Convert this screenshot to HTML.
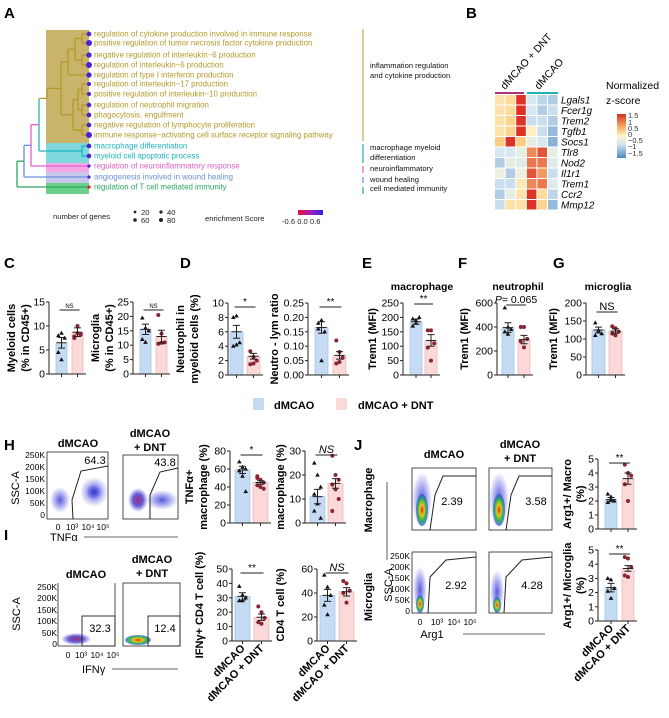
<!DOCTYPE html>
<html><head><meta charset="utf-8"><style>
body{margin:0;background:#fff}
svg{display:block;font-family:"Liberation Sans",Arial,sans-serif}
.b{font-weight:bold}
</style></head><body>
<svg id="fig" width="669" height="718" viewBox="0 0 669 718" xmlns="http://www.w3.org/2000/svg">
<defs>
<linearGradient id="esg" x1="0" x2="1"><stop offset="0" stop-color="#e8102a"/><stop offset="0.5" stop-color="#a020c0"/><stop offset="1" stop-color="#3020e0"/></linearGradient>
<linearGradient id="zg" x1="0" y1="0" x2="0" y2="1"><stop offset="0" stop-color="#d73027"/><stop offset="0.3" stop-color="#fbb060"/><stop offset="0.5" stop-color="#fdf6c9"/><stop offset="0.7" stop-color="#cfe4f0"/><stop offset="1" stop-color="#4f86c0"/></linearGradient>
<radialGradient id="hot"><stop offset="0" stop-color="#e02010"/><stop offset="0.35" stop-color="#f0c020"/><stop offset="0.65" stop-color="#30c040"/><stop offset="1" stop-color="#2040e0" stop-opacity="0.6"/></radialGradient>
<radialGradient id="blu"><stop offset="0" stop-color="#3030d0" stop-opacity="0.8"/><stop offset="1" stop-color="#3030e0" stop-opacity="0"/></radialGradient>
<radialGradient id="pur"><stop offset="0" stop-color="#a03080"/><stop offset="0.5" stop-color="#4030c0" stop-opacity="0.8"/><stop offset="1" stop-color="#3030e0" stop-opacity="0"/></radialGradient>
</defs>

<g class="b" font-size="15">
<text x="4" y="18">A</text><text x="466" y="18">B</text>
<text x="4" y="268">C</text><text x="180" y="268">D</text><text x="362" y="268">E</text><text x="458" y="268">F</text><text x="553" y="268">G</text>
<text x="4" y="450">H</text><text x="354" y="450">J</text><text x="4" y="540">I</text>
</g>

<g id="panelA">
<rect x="46" y="30" width="43" height="113" fill="#c8b46a"/>
<rect x="46" y="143" width="43" height="20" fill="#7ed8dc"/>
<rect x="46" y="163" width="43" height="9" fill="#f4a8e8"/>
<rect x="46" y="172" width="43" height="11" fill="#c8c8ee"/>
<rect x="46" y="183" width="43" height="11" fill="#6cd08c"/>
<g id="tree" fill="none" stroke-width="1.3"></g>
<g id="goLabels" font-size="7.9"></g>
<g font-size="7.6" fill="#111">
<line x1="363" y1="29" x2="363" y2="141" stroke="#b59a2a" stroke-width="1"/>
<text x="370" y="68">inflammation regulation</text><text x="370" y="78">and cytokine production</text>
<line x1="363" y1="144" x2="363" y2="163" stroke="#1fb5c0" stroke-width="1.2"/>
<text x="370" y="150">macrophage myeloid</text><text x="370" y="160">differentiation</text>
<line x1="363" y1="166" x2="363" y2="173" stroke="#e060c8" stroke-width="1.2"/><text x="370" y="171">neuroinflammatory</text>
<line x1="363" y1="177" x2="363" y2="183" stroke="#6a8fe0" stroke-width="1.2"/><text x="370" y="182">wound healing</text>
<line x1="363" y1="187" x2="363" y2="194" stroke="#2aa860" stroke-width="1.2"/><text x="370" y="191">cell mediated immunity</text>
</g>
<g font-size="7.6" fill="#222">
<text x="53" y="219">number of genes</text>
<circle cx="135" cy="212" r="1.4"/><text x="141" y="215">20</text>
<circle cx="135" cy="220" r="1.8"/><text x="141" y="223">60</text>
<circle cx="161" cy="212" r="1.6"/><text x="167" y="215">40</text>
<circle cx="161" cy="220" r="2"/><text x="167" y="223">80</text>
<text x="205" y="221">enrichment Score</text>
<rect x="298" y="210" width="25" height="5" fill="url(#esg)"/>
<text x="282" y="224">-0.6  0.0  0.6</text>
</g>
</g>

<g id="panelB">
<line x1="495" y1="93" x2="524" y2="93" stroke="#b0307a" stroke-width="2"/>
<line x1="527" y1="93" x2="558" y2="93" stroke="#20b0b8" stroke-width="2"/>
<text font-size="10.5" transform="translate(505,90) rotate(-48)">dMCAO + DNT</text>
<text font-size="10.5" transform="translate(539,90) rotate(-48)">dMCAO</text>
<g id="hm"></g>
<text x="606" y="89" font-size="10.5">Normalized</text>
<text x="606" y="104" font-size="10.5">z-score</text>
<rect x="617" y="114" width="9" height="44" fill="url(#zg)"/>
<g font-size="7.5" fill="#333"><text x="628" y="118">1.5</text><text x="628" y="125">1</text><text x="628" y="131">0.5</text><text x="628" y="137">0</text><text x="628" y="143">−0.5</text><text x="628" y="149">−1</text><text x="628" y="156">−1.5</text></g>
</g>

<g class="b" font-size="10.5" text-anchor="middle">
<text x="422" y="290">macrophage</text><text x="518" y="290">neutrophil</text><text x="608" y="290">microglia</text>
</g>

<g class="b" font-size="11">
<rect x="253" y="398" width="11" height="12" fill="#c5daf3"/>
<text x="274" y="409">dMCAO</text>
<rect x="336" y="398" width="11" height="12" fill="#fbd9d9"/>
<text x="358" y="409">dMCAO + DNT</text>
</g>

<g id="flowH" font-size="8.5">
<text x="78" y="447" class="b" font-size="11" text-anchor="middle">dMCAO</text>
<text x="150" y="437" class="b" font-size="11" text-anchor="middle">dMCAO</text>
<text x="150" y="451" class="b" font-size="11" text-anchor="middle">+ DNT</text>
<rect x="47" y="452" width="61" height="67" fill="none" stroke="#222" stroke-width="0.8"/>
<rect x="123" y="455" width="55" height="64" fill="none" stroke="#222" stroke-width="0.8"/>
<ellipse cx="60" cy="500" rx="10" ry="13" fill="url(#blu)"/>
<ellipse cx="94" cy="492" rx="14" ry="15" fill="url(#blu)"/>
<ellipse cx="94" cy="492" rx="8" ry="8" fill="url(#blu)"/>
<ellipse cx="138" cy="500" rx="10" ry="12" fill="url(#pur)"/>
<ellipse cx="162" cy="500" rx="16" ry="10" fill="url(#blu)"/>
<polyline points="73,519 72,500 81,471 108,466" fill="none" stroke="#222" stroke-width="1"/>
<polyline points="150,519 150,495 160,472 178,468" fill="none" stroke="#222" stroke-width="1"/>
<text x="95" y="464" font-size="11" text-anchor="middle">64.3</text>
<text x="165" y="466" font-size="11" text-anchor="middle">43.8</text>
<g text-anchor="end"><text x="45" y="458">250K</text><text x="45" y="470">200K</text><text x="45" y="482">150K</text><text x="45" y="494">100K</text><text x="45" y="506">50K</text><text x="45" y="518">0</text></g>
<g text-anchor="middle"><text x="58" y="530">0</text><text x="72" y="530">10³</text><text x="88" y="530">10⁴</text><text x="103" y="530">10⁵</text></g>
<text font-size="11" transform="translate(19,488) rotate(-90)" text-anchor="middle">SSC-A</text>
<text x="50" y="541" font-size="11">TNFα</text>
<line x1="84" y1="537" x2="178" y2="537" stroke="#333" stroke-width="0.8"/>
</g>

<g id="flowI" font-size="8.5">
<text x="86" y="578" class="b" font-size="11" text-anchor="middle">dMCAO</text>
<text x="152" y="563" class="b" font-size="11" text-anchor="middle">dMCAO</text>
<text x="152" y="577" class="b" font-size="11" text-anchor="middle">+ DNT</text>
<polyline points="58,583 58,646 115,646 115,583" fill="none" stroke="#222" stroke-width="0.8"/>
<rect x="123" y="583" width="57" height="63" fill="none" stroke="#222" stroke-width="0.8"/>
<ellipse cx="76" cy="639" rx="15" ry="6" fill="url(#pur)"/>
<ellipse cx="138" cy="640" rx="13" ry="5" fill="url(#hot)"/>
<rect x="82" y="616" width="33" height="30" fill="none" stroke="#222" stroke-width="0.9"/>
<rect x="148" y="616" width="32" height="30" fill="none" stroke="#222" stroke-width="0.9"/>
<text x="100" y="632" font-size="11" text-anchor="middle">32.3</text>
<text x="165" y="632" font-size="11" text-anchor="middle">12.4</text>
<g text-anchor="end"><text x="57" y="590">250K</text><text x="57" y="601">200K</text><text x="57" y="613">150K</text><text x="57" y="624">100K</text><text x="57" y="636">50K</text><text x="57" y="647">0</text></g>
<g text-anchor="middle"><text x="68" y="658">0</text><text x="81" y="658">10³</text><text x="97" y="658">10⁴</text><text x="113" y="658">10⁵</text></g>
<text font-size="11" transform="translate(20,614) rotate(-90)" text-anchor="middle">SSC-A</text>
<text x="82" y="673" font-size="11">IFNγ</text>
<line x1="112" y1="669" x2="178" y2="669" stroke="#333" stroke-width="0.8"/>
</g>

<g id="flowJ" font-size="8.5">
<text x="444" y="458" class="b" font-size="11" text-anchor="middle">dMCAO</text>
<text x="520" y="448" class="b" font-size="11" text-anchor="middle">dMCAO</text>
<text x="520" y="462" class="b" font-size="11" text-anchor="middle">+ DNT</text>
<text class="b" font-size="11" transform="translate(372,500) rotate(-90)" text-anchor="middle">Macrophage</text>
<text class="b" font-size="11" transform="translate(372,597) rotate(-90)" text-anchor="middle">Microglia</text>
<line x1="387" y1="482" x2="387" y2="560" stroke="#333" stroke-width="0.8"/>
<rect x="412" y="468" width="64" height="62" fill="none" stroke="#222" stroke-width="0.8"/>
<rect x="489" y="468" width="63" height="62" fill="none" stroke="#222" stroke-width="0.8"/>
<rect x="412" y="552" width="64" height="61" fill="none" stroke="#222" stroke-width="0.8"/>
<rect x="489" y="552" width="63" height="61" fill="none" stroke="#222" stroke-width="0.8"/>
<ellipse cx="422" cy="500" rx="10" ry="28" fill="url(#blu)"/><ellipse cx="422" cy="510" rx="6" ry="16" fill="url(#hot)"/>
<ellipse cx="499" cy="500" rx="10" ry="28" fill="url(#blu)"/><ellipse cx="499" cy="510" rx="6" ry="16" fill="url(#hot)"/>
<ellipse cx="420" cy="590" rx="7" ry="24" fill="url(#blu)"/><ellipse cx="420" cy="604" rx="4" ry="9" fill="url(#hot)"/>
<ellipse cx="497" cy="592" rx="7" ry="22" fill="url(#blu)"/><ellipse cx="497" cy="605" rx="4" ry="8" fill="url(#hot)"/>
<polyline points="430,530 435,495 443,476 476,476" fill="none" stroke="#222" stroke-width="1"/>
<polyline points="506,530 511,495 519,476 552,476" fill="none" stroke="#222" stroke-width="1"/>
<polyline points="428,613 430,577 446,560 476,557" fill="none" stroke="#222" stroke-width="1"/>
<polyline points="504,613 506,577 522,560 552,557" fill="none" stroke="#222" stroke-width="1"/>
<text x="452" y="505" font-size="11" text-anchor="middle">2.39</text>
<text x="536" y="505" font-size="11" text-anchor="middle">3.58</text>
<text x="456" y="589" font-size="11" text-anchor="middle">2.92</text>
<text x="532" y="589" font-size="11" text-anchor="middle">4.28</text>
<g text-anchor="end"><text x="410" y="559">250K</text><text x="410" y="570">200K</text><text x="410" y="581">150K</text><text x="410" y="592">100K</text><text x="410" y="603">50K</text><text x="410" y="614">0</text></g>
<g text-anchor="middle"><text x="420" y="625">0</text><text x="437" y="625">10³</text><text x="454" y="625">10⁴</text><text x="470" y="625">10⁵</text></g>
<text font-size="11" transform="translate(392,585) rotate(-90)" text-anchor="middle">SSC-A</text>
<text x="432" y="638" font-size="11" text-anchor="middle">Arg1</text>
<line x1="463" y1="634" x2="545" y2="634" stroke="#333" stroke-width="0.8"/>
</g>

<g id="bars"></g>
</svg>
<script>
const NS='http://www.w3.org/2000/svg';
function mk(tag,attrs,parent){const e=document.createElementNS(NS,tag);for(const k in attrs)e.setAttribute(k,attrs[k]);parent.appendChild(e);return e;}

const goTerms=['regulation of cytokine production involved in immune response','positive regulation of tumor necrosis factor cytokine production','negative regulation of interleukin−6 production','regulation of interleukin−6 production','regulation of type I interferon production','regulation of interleukin−17 production','positive regulation of interleukin−10 production','regulation of neutrophil migration','phagocytosis, engulfment','negative regulation of lymphocyte proliferation','immune response−activating cell surface receptor signaling pathway','macrophage differentiation','myeloid cell apoptotic process','regulation of neuroinflammatory response','angiogenesis involved in wound healing','regulation of T cell mediated immunity'];
const goCluster=[0,0,0,0,0,0,0,0,0,0,0,1,1,2,3,4];
const goGeneCount=[40,60,50,60,50,30,30,40,40,40,60,40,40,20,20,20];
const goScore=[0.6,0.6,0.6,0.6,0.6,0.6,0.6,0.6,0.6,0.6,0.6,0.6,0.6,0.6,0.6,-0.6];
const clusterColors=['#b59a2a','#1fb5c0','#e060c8','#6a8fe0','#2aa860'];
const leafY=[34,43,55,65,75,84,94,105,115,125,135,146,156,166,177,187];
(function(){
 const g=document.getElementById('goLabels');
 goTerms.forEach((t,i)=>{
  const tx=mk('text',{x:94,y:leafY[i]+2.7,fill:clusterColors[goCluster[i]]},g);tx.textContent=t;
  
  
  const c=mk('circle',{cx:89,cy:leafY[i],r:1+goGeneCount[i]/30,fill:goScore[i]>0?'#4a20d8':'#e02020'},g);
  
  
 });
 const tr=document.getElementById('tree');
 function seg(x,y1,y2,col){mk('path',{d:`M${x} ${y1}V${y2}`,stroke:col},tr);}
 function h(x1,x2,y,col){mk('path',{d:`M${x1} ${y}H${x2}`,stroke:col},tr);}
 const O=clusterColors[0],C=clusterColors[1];
 [[0,1,82],[2,3,82],[5,6,82],[7,8,82],[9,10,82],[11,12,82]].forEach(([a,b,x])=>{const col=goCluster[a]?C:O;seg(x,leafY[a],leafY[b],col);h(x,88,leafY[a],col);h(x,88,leafY[b],col);});
 const m01=(leafY[0]+leafY[1])/2,m23=(leafY[2]+leafY[3])/2;
 seg(75,m01,m23,O);h(75,82,m01,O);h(75,82,m23,O);
 const mab=(m01+m23)/2;seg(68,mab,leafY[4],O);h(68,75,mab,O);h(68,88,leafY[4],O);
 const m56=(leafY[5]+leafY[6])/2,m78=(leafY[7]+leafY[8])/2,m910=(leafY[9]+leafY[10])/2;
 seg(78,m56,m78,O);h(78,82,m56,O);h(78,82,m78,O);
 const mde=(m56+m78)/2;seg(73,mde,m910,O);h(73,78,mde,O);h(73,82,m910,O);
 const mabc=(mab+leafY[4])/2,mdef=(mde+m910)/2;seg(61,mabc,mdef,O);h(61,68,mabc,O);h(61,73,mdef,O);
 const mO=(mabc+mdef)/2,mC=(leafY[11]+leafY[12])/2;
 seg(47,mO,mO+10,O);h(47,61,mO,O);
 seg(39,mO+10,mC,C);h(39,47,mO+10,O);h(39,82,mC,C);
 const m1=(mO+10+mC)/2;seg(31,m1,leafY[13],clusterColors[2]);h(31,39,m1,clusterColors[2]);h(31,88,leafY[13],clusterColors[2]);
 const m2=(m1+leafY[13])/2;seg(24,m2,leafY[14],clusterColors[3]);h(24,31,m2,clusterColors[3]);h(24,88,leafY[14],clusterColors[3]);
 const m3=(m2+leafY[14])/2;seg(17,m3,leafY[15],clusterColors[4]);h(17,24,m3,clusterColors[4]);h(17,88,leafY[15],clusterColors[4]);
})();

const genes=['Lgals1','Fcer1g','Trem2','Tgfb1','Socs1','Tlr8','Nod2','Il1r1','Trem1','Ccr2','Mmp12'];
const hmLgals1=[0.3,0.4,1.6,-0.5,-0.7,-0.8];
const hmFcer1g=[0.3,0.4,1.6,-0.5,-0.8,-0.6];
const hmTrem2=[0.3,0.5,1.6,-0.6,-0.6,-0.8];
const hmTgfb1=[0.3,0.5,1.6,0.1,-0.6,-1.0];
const hmSocs1=[0.6,1.5,0.6,-0.3,-0.5,-1.1];
const hmTlr8=[-0.5,-0.5,-0.3,1.0,1.3,-0.3];
const hmNod2=[-0.8,-0.3,-0.4,1.1,1.1,-0.4];
const hmIl1r1=[-0.2,-0.8,-0.2,1.3,0.9,-0.6];
const hmTrem1=[-0.6,-0.6,0.2,1.0,1.1,-0.4];
const hmCcr2=[-0.8,-0.3,0.3,1.5,0.4,-0.7];
const hmMmp12=[-0.6,0.3,0.3,1.6,0.5,-1.0];
const hmRows=[hmLgals1,hmFcer1g,hmTrem2,hmTgfb1,hmSocs1,hmTlr8,hmNod2,hmIl1r1,hmTrem1,hmCcr2,hmMmp12];
function zcol(v){
 const st=[[-1.5,[90,140,200]],[-0.5,[214,232,242]],[0,[253,246,205]],[0.6,[251,205,130]],[1.5,[222,50,38]]];
 v=Math.max(-1.5,Math.min(1.5,v));
 for(let i=0;i<st.length-1;i++){const[a,ca]=st[i],[b,cb]=st[i+1];if(v<=b){const t=(v-a)/(b-a);return`rgb(${ca.map((c,j)=>Math.round(c+(cb[j]-c)*t)).join(',')})`;}}
 return 'rgb(222,50,38)';
}
(function(){
 const g=document.getElementById('hm');const x0=495,y0=95,cw=10.6,ch=10.5;
 hmRows.forEach((row,r)=>{
  row.forEach((v,c)=>{const rc=mk('rect',{x:x0+c*cw,y:y0+r*ch,width:cw-1,height:ch-1,fill:zcol(v)},g);
   
   });
  const t=mk('text',{x:561,y:y0+r*ch+8.5,'font-size':10,'font-style':'italic'},g);t.textContent=genes[r];
  
  
 });
})();

const groups=['dMCAO','dMCAO + DNT'];
const c1Means=[6.5,8.7], c1Err=[1.1,0.9], c1PtsA=[8,8.5,7.5,4.5,3], c1PtsB=[7.5,10,8.2,7.8,8.5], c1Ticks=[0,5,10,15];
const c2Means=[15.5,13], c2Err=[1.8,2.2], c2PtsA=[19.5,16,15,12,11], c2PtsB=[20.5,14,11,10.5,10.8], c2Ticks=[0,5,10,15,20,25];
const d1Means=[6,2.6], d1Err=[0.9,0.4], d1PtsA=[8,8.2,4.5,4,4.2], d1PtsB=[3.3,2.5,2,1.5,1.6], d1Ticks=[0,2,4,6,8,10];
const d2Means=[0.165,0.068], d2Err=[0.02,0.013], d2PtsA=[0.18,0.19,0.15,0.16,0.05], d2PtsB=[0.12,0.08,0.06,0.04,0.045], d2Ticks=[0,0.05,0.1,0.15,0.2,0.25];
const eMeans=[185,120], eErr=[9,20], ePtsA=[195,180,200,170,190], ePtsB=[155,155,110,95,50], eTicks=[0,50,100,150,200,250];
const fMeans=[395,295], fErr=[40,35], fPtsA=[560,400,380,360,340], fPtsB=[400,400,300,280,230], fTicks=[0,200,400,600];
const gMeans=[125,122], gErr=[8,6], gPtsA=[145,120,115,110,125], gPtsB=[135,130,120,115,110], gTicks=[0,50,100,150,200];
const h1Means=[59,45], h1Err=[4,2], h1PtsA=[68,62,60,58,52,35], h1PtsB=[52,48,45,42,40,38,50], h1Ticks=[0,20,40,60,80];
const h2Means=[11,16.5], h2Err=[3,2], h2PtsA=[25,20,15,12,8,2,5], h2PtsB=[28,20,18,16,14,10,5], h2Ticks=[0,10,20,30];
const i1Means=[31,16.5], i1Err=[2.5,2.2], i1PtsA=[38,32,30,28,28], i1PtsB=[24,20,16,13,12], i1Ticks=[0,10,20,30,40,50];
const i2Means=[38,41], i2Err=[5,3.5], i2PtsA=[55,45,38,30,22], i2PtsB=[50,48,42,40,32], i2Ticks=[0,20,40,60];
const j1Means=[2.1,3.6], j1Err=[0.15,0.4], j1PtsA=[2.5,2.3,2.0,1.9,2.1], j1PtsB=[4.6,4,3.8,3.2,2], j1Ticks=[0,1,2,3,4,5];
const j2Means=[2.35,3.7], j2Err=[0.3,0.2], j2PtsA=[3,2.9,2.3,2.1,1.6], j2PtsB=[4.5,4.4,3.8,3.2,3.1], j2Ticks=[0,1,2,3,4,5];

const charts=[
 {name:'c1',m:c1Means,e:c1Err,pa:c1PtsA,pb:c1PtsB,t:c1Ticks,ax:49,top:302,bot:374,bw:11,o1:7,o2:23,sig:'NS',sigY:310,sigSmall:true,fs:9.5,yl:['Myeloid cells','(% in CD45+)'],ylx:[15,29]},
 {name:'c2',m:c2Means,e:c2Err,pa:c2PtsA,pb:c2PtsB,t:c2Ticks,ax:133,top:302,bot:374,bw:11,o1:7,o2:23,sig:'NS',sigY:310,sigSmall:true,fs:9.5,yl:['Microglia','(% in CD45+)'],ylx:[99,113]},
 {name:'d1',m:d1Means,e:d1Err,pa:d1PtsA,pb:d1PtsB,t:d1Ticks,ax:228,top:303,bot:375,bw:13,o1:2,o2:19,sig:'*',sigY:307,fs:9.5,yl:['Neutrophil in','myeloid cells (%)'],ylx:[184,198]},
 {name:'d2',m:d2Means,e:d2Err,pa:d2PtsA,pb:d2PtsB,t:d2Ticks,ax:308,top:303,bot:375,bw:13,o1:7,o2:25,sig:'**',sigY:307,fs:9.5,yl:['Neutro - lym ratio'],ylx:[278]},
 {name:'e',m:eMeans,e:eErr,pa:ePtsA,pb:ePtsB,t:eTicks,ax:403,top:303,bot:375,bw:12,o1:7,o2:22,sig:'**',sigY:304,fs:9.5,yl:['Trem1 (MFI)'],ylx:[376]},
 {name:'f',m:fMeans,e:fErr,pa:fPtsA,pb:fPtsB,t:fTicks,ax:497,top:303,bot:375,bw:12,o1:5,o2:21,sig:'P= 0.065',sigY:305,fs:9.5,yl:['Trem1 (MFI)'],ylx:[468]},
 {name:'g',m:gMeans,e:gErr,pa:gPtsA,pb:gPtsB,t:gTicks,ax:586,top:303,bot:375,bw:13,o1:6,o2:23,sig:'NS',sigY:312,fs:9.5,yl:['Trem1 (MFI)'],ylx:[557]},
 {name:'h1',m:h1Means,e:h1Err,pa:h1PtsA,pb:h1PtsB,t:h1Ticks,ax:230,top:451,bot:523,bw:15,o1:5,o2:23,sig:'*',sigY:455,fs:9.5,yl:['TNFα+','macrophage (%)'],ylx:[193,207]},
 {name:'h2',m:h2Means,e:h2Err,pa:h2PtsA,pb:h2PtsB,t:h2Ticks,ax:305,top:451,bot:523,bw:15,o1:5,o2:23,sig:'NS',sigY:455,italic:true,fs:9.5,yl:['macrophage (%)'],ylx:[284]},
 {name:'i1',m:i1Means,e:i1Err,pa:i1PtsA,pb:i1PtsB,t:i1Ticks,ax:232,top:569,bot:641,bw:15,o1:3,o2:22,sig:'**',sigY:573,fs:9.5,yl:['IFNγ+ CD4 T cell (%)'],ylx:[203],xl:true},
 {name:'i2',m:i2Means,e:i2Err,pa:i2PtsA,pb:i2PtsB,t:i2Ticks,ax:317,top:569,bot:641,bw:15,o1:3,o2:22,sig:'NS',sigY:573,italic:true,fs:9.5,yl:['CD4 T cell (%)'],ylx:[284],xl:true},
 {name:'j1',m:j1Means,e:j1Err,pa:j1PtsA,pb:j1PtsB,t:j1Ticks,ax:598,top:459,bot:529,bw:12,o1:7,o2:24,sig:'**',sigY:463,fs:9.5,yl:['Arg1+/ Macro','(%)'],ylx:[571,584]},
 {name:'j2',m:j2Means,e:j2Err,pa:j2PtsA,pb:j2PtsB,t:j2Ticks,ax:598,top:550,bot:621,bw:12,o1:7,o2:24,sig:'**',sigY:554,fs:9.5,yl:['Arg1+/ Microglia','(%)'],ylx:[571,584],xl:true}
];
(function(){
 const root=document.getElementById('bars');
 charts.forEach(c=>{
  const g=mk('g',{},root);
  
  
  const mx=c.t[c.t.length-1];
  const y=v=>c.bot-(v/mx)*(c.bot-c.top);
  const xs=[c.ax+c.o1,c.ax+c.o2];
  [c.m[0],c.m[1]].forEach((v,i)=>{
   const b=mk('rect',{x:xs[i],y:y(v),width:c.bw,height:c.bot-y(v),fill:i?'#fbd9d9':'#c5daf3',stroke:i?'#f2b6b6':'#a6c6ec','stroke-width':0.8},g);
   
   
  });
  [c.pa,c.pb].forEach((pts,i)=>{
   const cx=xs[i]+c.bw/2;
   pts.forEach((v,k)=>{
    const px=cx+((k%3)-1)*3.2, py=y(v);
    let p;
    if(i===0) p=mk('path',{d:`M${px} ${py-2.4}L${px+2.3} ${py+1.6}L${px-2.3} ${py+1.6}Z`,fill:'#111'},g);
    else p=mk('circle',{cx:px,cy:py,r:2,fill:'#8a2433'},g);
    
    
   });
   const m=c.m[i],e=c.e[i];
   mk('path',{d:`M${cx} ${y(m+e)}V${y(m-e)}M${cx-3.5} ${y(m+e)}H${cx+3.5}M${cx-3.5} ${y(m-e)}H${cx+3.5}M${cx-5} ${y(m)}H${cx+5}`,stroke:'#222','stroke-width':1,fill:'none'},g);
  });
  mk('path',{d:`M${c.ax} ${c.top}V${c.bot}H${xs[1]+c.bw+3}`,stroke:'#222','stroke-width':1,fill:'none'},g);
  [0,1].forEach(i=>mk('path',{d:`M${xs[i]+c.bw/2} ${c.bot}v3`,stroke:'#222','stroke-width':1},g));
  c.t.forEach(tv=>{
   mk('path',{d:`M${c.ax-3} ${y(tv)}H${c.ax}`,stroke:'#222','stroke-width':1},g);
   const tt=mk('text',{x:c.ax-4,y:y(tv)+3.5,'font-size':c.fs+1,'text-anchor':'end'},g);
   tt.textContent=(c.name==='d2')?tv.toFixed(2):String(tv);
   
   
  });
  const midY=(c.top+c.bot)/2;
  c.yl.forEach((s,k)=>{
   const tl=mk('text',{transform:`translate(${c.ylx[k]},${midY}) rotate(-90)`,'text-anchor':'middle','font-size':11,'font-weight':'bold'},g);
   tl.textContent=s;
   
   
  });
  const c1=xs[0]+c.bw/2,c2=xs[1]+c.bw/2;
  mk('path',{d:`M${c1-2} ${c.sigY}H${c2+2}`,stroke:'#222','stroke-width':1},g);
  const st=mk('text',{x:(c1+c2)/2,y:c.sigY-2,'text-anchor':'middle','font-size':c.sigSmall?6:(c.sig==='NS'?11:10)},g);
  if(c.italic) st.setAttribute('font-style','italic');
  if(c.sig.startsWith('P')){st.innerHTML='<tspan font-style="italic">P</tspan>= 0.065';st.setAttribute('font-size','10.5');}
  else st.textContent=c.sig;
  
  
  if(c.xl){
   groups.forEach((s,i)=>{
    const cx=xs[i]+c.bw/2;
    const xl=mk('text',{transform:`translate(${cx+3},${c.bot+8}) rotate(-45)`,'text-anchor':'end','font-size':11,'font-weight':'bold'},g);
    xl.textContent=s;
    
    
   });
  }
 });
})();
</script>
</body></html>
